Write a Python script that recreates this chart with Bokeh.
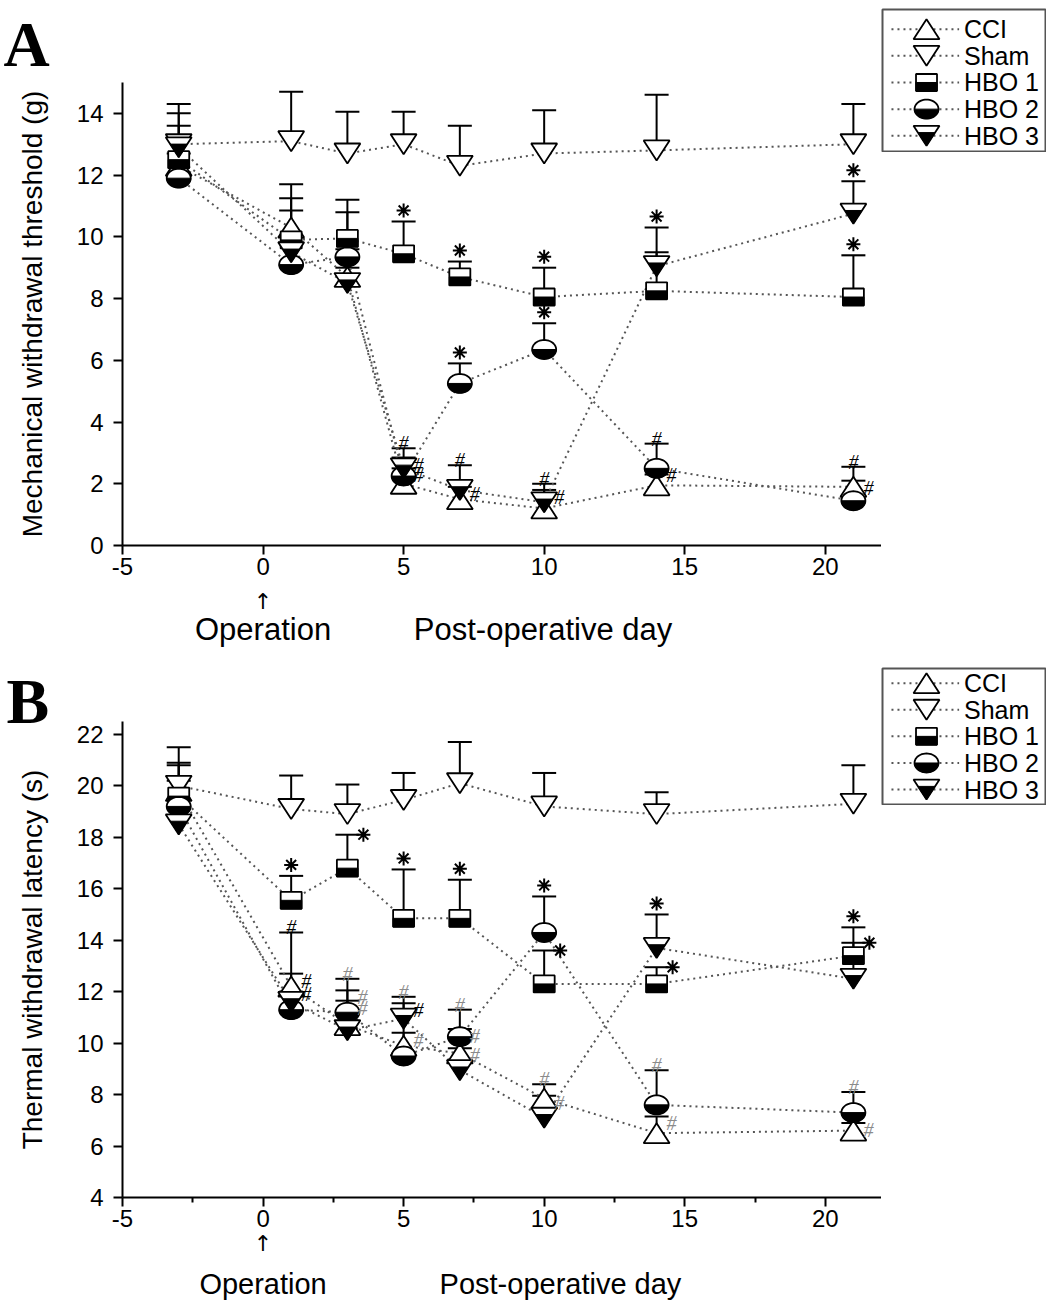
import numpy as np
from bokeh.plotting import figure
from bokeh.models import (Range1d, FixedTicker, ColumnDataSource, Whisker, TeeHead,
                          LinearAxis, CustomJSTickFormatter, Spacer)
from bokeh.layouts import column, row
from bokeh.embed import file_html
from bokeh.resources import INLINE
from bokeh.core.properties import value

# ---------------- data ----------------
days = [-3, 1, 3, 5, 7, 10, 14, 21]
group_names = ["CCI", "Sham", "HBO 1", "HBO 2", "HBO 3"]
x_ticks = [-5, 0, 5, 10, 15, 20]
b_x_minor_ticks = [-2.5, 2.5, 7.5, 12.5, 17.5]
a_y_ticks = [0, 2, 4, 6, 8, 10, 12, 14]
b_y_ticks = [4, 6, 8, 10, 12, 14, 16, 18, 20, 22]
operation_day = 0
a_post_label_day = 9.96
b_post_label_day = 10.58

# Panel A: mechanical withdrawal threshold (g), means
a_cci = [12.3, 10.3, 8.7, 2.0, 1.5, 1.2, 1.95, 1.9]
a_sham = [13.0, 13.1, 12.7, 13.0, 12.3, 12.7, 12.8, 13.0]
a_hbo1 = [12.5, 9.9, 9.95, 9.45, 8.7, 8.05, 8.25, 8.05]
a_hbo2 = [11.9, 9.1, 9.35, 2.25, 5.25, 6.35, 2.5, 1.45]
a_hbo3 = [12.9, 9.5, 8.5, 2.5, 1.8, 1.4, 9.05, 10.75]
# Panel A: upper ends of error bars
a_cci_top = [13.6, 11.7, 9.6, 2.5, 1.9, 1.8, 2.3, 2.55]
a_sham_top = [14.3, 14.7, 14.05, 14.05, 13.6, 14.1, 14.6, 14.3]
a_hbo1_top = [13.2, 11.25, 11.2, 10.5, 9.2, 9.0, 9.5, 9.4]
a_hbo2_top = [12.7, 9.8, 10.8, 3.15, 5.9, 7.2, 3.3, 2.1]
a_hbo3_top = [14.0, 10.85, 9.0, 2.85, 2.6, 2.0, 10.3, 11.8]

# Panel B: thermal withdrawal latency (s), means
b_cci = [19.8, 12.2, 10.7, 9.9, 9.6, 7.85, 6.5, 6.6]
b_sham = [20.0, 19.1, 18.9, 19.45, 20.1, 19.2, 18.9, 19.3]
b_hbo1 = [19.6, 15.55, 16.8, 14.85, 14.85, 12.3, 12.3, 13.4]
b_hbo2 = [19.2, 11.3, 11.2, 9.5, 10.25, 14.3, 7.6, 7.3]
b_hbo3 = [18.5, 11.6, 10.5, 10.95, 8.95, 7.1, 13.7, 12.5]
# Panel B: upper ends of error bars
b_cci_top = [20.9, 14.3, 12.05, 11.55, 10.55, 8.4, 7.15, 6.9]
b_sham_top = [21.5, 20.4, 20.05, 20.5, 21.7, 20.5, 19.75, 20.8]
b_hbo1_top = [20.8, 16.5, 18.1, 16.75, 16.35, 13.6, 12.95, 13.9]
b_hbo2_top = [20.2, 12.0, 12.5, 10.4, 11.3, 15.7, 8.95, 8.1]
b_hbo3_top = [19.5, 12.7, 11.65, 11.8, 9.8, 7.95, 15.0, 14.5]

# significance marks: (group, day, symbol, placement, gray?)
a_marks = [
    ("HBO 1", 5, "*", "above", False), ("HBO 2", 5, "#", "above", False),
    ("HBO 3", 5, "#", "right", False), ("HBO 3", 5, "#", "rmean", False),
    ("HBO 1", 7, "*", "above", False), ("HBO 2", 7, "*", "above", False),
    ("HBO 3", 7, "#", "above", False), ("CCI", 7, "#", "right", False),
    ("HBO 1", 10, "*", "above", False), ("HBO 2", 10, "*", "above", False),
    ("HBO 3", 10, "#", "above", False), ("CCI", 10, "#", "right", False),
    ("HBO 3", 14, "*", "above", False), ("HBO 2", 14, "#", "above", False),
    ("HBO 2", 14, "#", "rmean", False),
    ("HBO 3", 21, "*", "above", False), ("HBO 1", 21, "*", "above", False),
    ("CCI", 21, "#", "above", False), ("HBO 2", 21, "#", "right", False),
]
b_marks = [
    ("HBO 1", 1, "*", "above", False), ("CCI", 1, "#", "above", False),
    ("HBO 3", 1, "#", "right", False), ("CCI", 1, "#", "rmean", False),
    ("HBO 1", 3, "*", "right", False), ("HBO 2", 3, "#", "above", True),
    ("CCI", 3, "#", "right", True), ("HBO 3", 3, "#", "right", True),
    ("HBO 1", 5, "*", "above", False), ("HBO 3", 5, "#", "above", True),
    ("CCI", 5, "#", "right", False), ("HBO 2", 5, "#", "right", True),
    ("HBO 1", 7, "*", "above", False), ("HBO 2", 7, "#", "above", True),
    ("CCI", 7, "#", "right", True), ("HBO 3", 7, "#", "right", True),
    ("HBO 2", 10, "*", "above", False), ("HBO 1", 10, "*", "right", False),
    ("CCI", 10, "#", "above", True), ("HBO 3", 10, "#", "right", True),
    ("HBO 3", 14, "*", "above", False), ("HBO 1", 14, "*", "right", False),
    ("HBO 2", 14, "#", "above", True), ("CCI", 14, "#", "right", True),
    ("HBO 3", 21, "*", "above", False), ("HBO 1", 21, "*", "right", False),
    ("HBO 2", 21, "#", "above", True), ("CCI", 21, "#", "right", True),
]

# ---------------- styling / geometry ----------------
XMIN, XMAX = -5, 22
FW = 759
KINDS = {"CCI": "tri_up", "Sham": "tri_down", "HBO 1": "square_half",
         "HBO 2": "circle_half", "HBO 3": "tri_down_half"}
SANS = "Liberation Sans"
SERIF = "Liberation Serif"


def shape_polys(kind, xs, ys, ux, uy):
    ox, oy, fx, fy = [], [], [], []
    for x, y in zip(xs, ys):
        if kind == "tri_up":
            w, h = 26 * ux, 20 * uy
            ox.append([x - w / 2, x + w / 2, x]); oy.append([y - h / 2, y - h / 2, y + h / 2])
        elif kind in ("tri_down", "tri_down_half"):
            w, h = 26 * ux, 20 * uy
            ox.append([x - w / 2, x + w / 2, x]); oy.append([y + h / 2, y + h / 2, y - h / 2])
            if kind == "tri_down_half":
                f = 0.34
                yc = y + h / 2 - f * h
                wc = w * (1 - f)
                fx.append([x - wc / 2, x + wc / 2, x]); fy.append([yc, yc, y - h / 2])
        elif kind == "square_half":
            w, h = 21 * ux, 17 * uy
            ox.append([x - w / 2, x + w / 2, x + w / 2, x - w / 2])
            oy.append([y - h / 2, y - h / 2, y + h / 2, y + h / 2])
            fx.append([x - w / 2, x + w / 2, x + w / 2, x - w / 2])
            fy.append([y - h / 2, y - h / 2, y, y])
        elif kind == "circle_half":
            w, h = 24 * ux, 19 * uy
            t = np.linspace(0, 2 * np.pi, 49)
            ox.append(list(x + w / 2 * np.cos(t))); oy.append(list(y + h / 2 * np.sin(t)))
            t2 = np.linspace(np.pi, 2 * np.pi, 25)
            fx.append(list(x + w / 2 * np.cos(t2))); fy.append(list(y + h / 2 * np.sin(t2)))
    return ox, oy, fx, fy


def draw_markers(fig, kind, xs, ys, ux, uy):
    ox, oy, fx, fy = shape_polys(kind, xs, ys, ux, uy)
    fig.patches(ox, oy, fill_color="white", line_color="black", line_width=1.8)
    if fx:
        fig.patches(fx, fy, fill_color="black", line_color="black", line_width=1.0)


def plain_axis(ticks, code, font, size, standoff):
    ax = LinearAxis(ticker=FixedTicker(ticks=ticks, minor_ticks=[]),
                    formatter=CustomJSTickFormatter(code=code))
    ax.axis_line_color = None
    ax.major_tick_line_color = None
    ax.minor_tick_line_color = None
    ax.major_label_text_font = font
    ax.major_label_text_font_size = size
    ax.major_label_text_color = "black"
    ax.major_label_standoff = standoff
    return ax


def make_panel(means, tops, marks, y_lo, y_hi, y_ticks, frame_h, b_top, b_bottom,
               minor, ylabel, letter, letter_offset, letter_standoff, post_day,
               arrow_standoff, text_standoff, text_size):
    p = figure(frame_width=FW, frame_height=frame_h,
               x_range=Range1d(XMIN, XMAX), y_range=Range1d(y_lo, y_hi),
               toolbar_location=None, output_backend="svg",
               min_border_left=122, min_border_right=0,
               min_border_top=b_top, min_border_bottom=b_bottom)
    p.outline_line_color = None
    p.grid.visible = False
    p.background_fill_color = "white"
    p.border_fill_color = "white"

    # panel letter as title
    p.title.text = letter
    p.title.text_font = SERIF
    p.title.text_font_style = "bold"
    p.title.text_font_size = "64px"
    p.title.text_color = "black"
    p.title.align = "left"
    p.title.offset = letter_offset
    p.title.standoff = letter_standoff

    p.xaxis.ticker = FixedTicker(ticks=x_ticks, minor_ticks=minor)
    p.xaxis.major_label_overrides = {-5: "-5"}
    p.yaxis.ticker = FixedTicker(ticks=y_ticks, minor_ticks=[])
    for ax in (p.xaxis, p.yaxis):
        ax.axis_line_width = 2
        ax.axis_line_color = "black"
        ax.major_tick_line_width = 2
        ax.major_tick_line_color = "black"
        ax.minor_tick_line_width = 2
        ax.minor_tick_line_color = "black"
        ax.major_tick_in = 0
        ax.major_tick_out = 9
        ax.minor_tick_in = 0
        ax.minor_tick_out = 5
        ax.major_label_text_font = SANS
        ax.major_label_text_font_size = "24px"
        ax.major_label_text_color = "black"
    p.xaxis.major_label_standoff = 3
    p.yaxis.major_label_standoff = 10
    p.yaxis.axis_label = ylabel
    p.yaxis.axis_label_text_font = SANS
    p.yaxis.axis_label_text_font_size = "28px"
    p.yaxis.axis_label_text_font_style = "normal"
    p.yaxis.axis_label_text_color = "black"
    p.yaxis.axis_label_standoff = 26

    # arrow and captions under the x axis
    p.add_layout(plain_axis([operation_day], "return '\u2191';", "DejaVu Sans", "22px",
                            arrow_standoff), "below")
    p.add_layout(plain_axis([operation_day, post_day],
                            "return tick < 5 ? 'Operation' : 'Post-operative day';",
                            SANS, text_size, text_standoff), "below")

    ux = (XMAX - XMIN) / FW
    uy = (y_hi - y_lo) / frame_h

    # dotted connecting lines
    for g in group_names:
        p.line(days, means[g], line_color="#555555", line_width=2, line_dash="2 4")
    # error bars (upper only)
    for g in group_names:
        src = ColumnDataSource(dict(x=days, lo=means[g], hi=tops[g]))
        w = Whisker(source=src, base="x", lower="lo", upper="hi",
                    line_color="black", line_width=2,
                    upper_head=TeeHead(size=24, line_width=2, line_color="black"),
                    lower_head=None, level="underlay")
        p.add_layout(w)
    # markers
    for g in group_names:
        draw_markers(p, KINDS[g], days, means[g], ux, uy)

    # significance marks
    star_x, star_y = [], []
    hash_groups = {}
    for g, d, sym, where, gray in marks:
        i = days.index(d)
        if where == "rmean":
            y = means[g][i]
            where = "right"
        else:
            y = tops[g][i]
        if sym == "*":
            if where == "above":
                star_x.append(d); star_y.append(y + 11 * uy)
            else:
                star_x.append(d + 16 * ux); star_y.append(y)
        else:
            hash_groups.setdefault((where, gray), ([], []))
            hash_groups[(where, gray)][0].append(d)
            hash_groups[(where, gray)][1].append(y)
    p.scatter(star_x, star_y, marker="asterisk", size=14, line_width=2, line_color="black")
    for (where, gray), (xs, ys) in hash_groups.items():
        color = "#8a8a8a" if gray else "black"
        xo, yo = (10, 7) if where == "right" else (0, -5)
        p.text(xs, ys, text=["#"] * len(xs), text_font=value(SERIF), text_font_size=value("20px"),
               text_font_style="italic", text_color=color,
               text_align="left" if where == "right" else "center",
               text_baseline="alphabetic", x_offset=xo, y_offset=yo)
    return p


def make_legend(frame_h, y_rng):
    lw = 163
    lf = figure(frame_width=lw, frame_height=frame_h, x_range=Range1d(0, 1),
                y_range=Range1d(*y_rng), toolbar_location=None, output_backend="svg",
                x_axis_type=None, y_axis_type=None, min_border=1)
    lf.outline_line_color = "#555555"
    lf.outline_line_width = 2
    lf.grid.visible = False
    n = len(group_names)
    ypos = [n - 1 - i for i in range(n)]
    ux = 1 / lw
    uy = (y_rng[1] - y_rng[0]) / frame_h
    for g, yy in zip(group_names, ypos):
        lf.line([0.055, 0.47], [yy, yy], line_color="#555555", line_width=2, line_dash="2 4")
        draw_markers(lf, KINDS[g], [0.27], [yy], ux, uy)
    lf.text([0.50] * n, ypos, text=group_names, text_font=value(SANS),
            text_font_size=value("25px"), text_baseline="middle", text_color="black")
    return lf


a_means = dict(zip(group_names, [a_cci, a_sham, a_hbo1, a_hbo2, a_hbo3]))
a_tops = dict(zip(group_names, [a_cci_top, a_sham_top, a_hbo1_top, a_hbo2_top, a_hbo3_top]))
b_means = dict(zip(group_names, [b_cci, b_sham, b_hbo1, b_hbo2, b_hbo3]))
b_tops = dict(zip(group_names, [b_cci_top, b_sham_top, b_hbo1_top, b_hbo2_top, b_hbo3_top]))

pA = make_panel(a_means, a_tops, a_marks, 0, 15, a_y_ticks, 463, 82, 105, [],
                "Mechanical withdrawal threshold (g)", "A", -119, 6, a_post_label_day,
                5, -11, "31px")
pB = make_panel(b_means, b_tops, b_marks, 4, 22.5, b_y_ticks, 476, 71, 103, b_x_minor_ticks,
                "Thermal withdrawal latency (s)", "B", -116, -31, b_post_label_day,
                -5, 3, "29px")

legA = make_legend(142, (-0.59, 4.74))
legB = make_legend(136, (-0.56, 4.55))

layout = column(row(pA, column(Spacer(width=165, height=8), legA)),
                row(pB, column(Spacer(width=165, height=17), legB)))

open("out.html", "w").write(file_html(layout, INLINE))
